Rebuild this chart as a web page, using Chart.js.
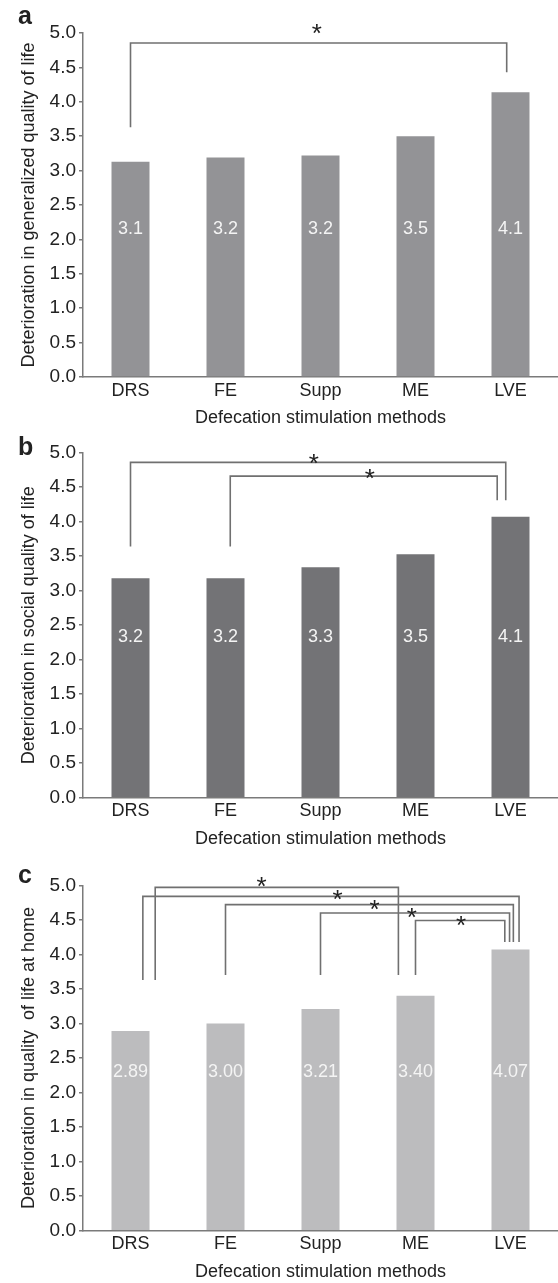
<!DOCTYPE html>
<html>
<head>
<meta charset="utf-8">
<title>Defecation stimulation methods</title>
<script src="https://cdn.jsdelivr.net/npm/chart.js@4.4.1/dist/chart.umd.min.js"></script>
<style>
  body { margin: 0; background: #fff; }
  .panel { position: absolute; left: 0; }
</style>
</head>
<body>
<div class="panel" style="top:0"><canvas id="chartA" width="558" height="430"></canvas></div>
<div class="panel" style="top:430px"><canvas id="chartB" width="558" height="420"></canvas></div>
<div class="panel" style="top:850px"><canvas id="chartC" width="558" height="433"></canvas></div>
<script>
const methods = ['DRS', 'FE', 'Supp', 'ME', 'LVE'];
const generalQol = [3.13, 3.19, 3.22, 3.50, 4.14];
const socialQol = [3.18, 3.18, 3.34, 3.53, 4.07];
const homeQol = [2.89, 3.00, 3.21, 3.40, 4.07];

// significance brackets: [from, to, line level, left leg end, right leg end, star x, star level]
// from / to / star x are category positions (0 = DRS ... 4 = LVE)
const generalSig = [
  [0, 3.96, 4.855, 3.63, 4.43, 1.96, 5.08]
];
const socialSig = [
  [0, 3.95, 4.86, 3.64, 4.31, 1.93, 4.94],
  [1.05, 3.86, 4.66, 3.64, 4.31, 2.52, 4.72]
];
const homeSig = [
  [0.26, 2.82, 4.97, 3.63, 3.70, 1.38, 5.08],
  [0.13, 4.09, 4.84, 3.63, 4.18, 2.18, 4.89],
  [1.0, 4.03, 4.72, 3.70, 4.18, 2.57, 4.75],
  [2.0, 3.99, 4.60, 3.70, 4.18, 2.96, 4.63],
  [3.0, 3.94, 4.49, 3.70, 4.18, 3.48, 4.51]
];

const FONT = "'Liberation Sans', Arial, Helvetica, sans-serif";
const axisColor = '#7a7a7a';
const textColor = '#222';

Chart.defaults.font.family = FONT;
Chart.defaults.color = textColor;

// value labels, brackets and panel letter
const panelDecor = {
  id: 'panelDecor',
  afterDraw(chart, args, opts) {
    const ctx = chart.ctx;
    const x = chart.scales.x;
    const y = chart.scales.y;
    ctx.save();

    ctx.fillStyle = '#f4f4f4';
    ctx.font = '18px ' + FONT;
    ctx.textAlign = 'center';
    ctx.textBaseline = 'middle';
    chart.data.datasets[0].data.forEach((v, i) => {
      ctx.fillText(v.toFixed(opts.decimals), x.getPixelForValue(i), y.getPixelForValue(opts.labelLevel));
    });

    ctx.strokeStyle = '#707070';
    ctx.lineWidth = 1.6;
    ctx.fillStyle = textColor;
    ctx.font = '26px ' + FONT;
    ctx.textBaseline = 'alphabetic';
    opts.sig.forEach(s => {
      const x1 = x.getPixelForValue(s[0]);
      const x2 = x.getPixelForValue(s[1]);
      ctx.beginPath();
      ctx.moveTo(x1, y.getPixelForValue(s[3]));
      ctx.lineTo(x1, y.getPixelForValue(s[2]));
      ctx.lineTo(x2, y.getPixelForValue(s[2]));
      ctx.lineTo(x2, y.getPixelForValue(s[4]));
      ctx.stroke();
      ctx.fillText('*', x.getPixelForValue(s[5]), y.getPixelForValue(s[6]) + 15);
    });

    ctx.font = 'bold 25px ' + FONT;
    ctx.textAlign = 'left';
    ctx.fillText(opts.letter, 18, opts.letterY);
    ctx.restore();
  }
};

function makePanel(id, values, color, yTitle, decor, top) {
  const canvas = document.getElementById(id);
  const bottomPad = canvas.height - decor.areaBottom - 52;
  return new Chart(canvas, {
    type: 'bar',
    data: {
      labels: methods,
      datasets: [{
        data: values,
        backgroundColor: color,
        borderWidth: 0,
        barPercentage: 0.4,
        categoryPercentage: 1
      }]
    },
    options: {
      responsive: false,
      animation: false,
      // the original figure is cut at its right edge, so the plot runs a little past the canvas
      layout: { padding: { left: 10, right: -2, top: top, bottom: bottomPad } },
      plugins: {
        legend: { display: false },
        tooltip: { enabled: false },
        panelDecor: decor
      },
      scales: {
        x: {
          grid: { display: false, drawTicks: false },
          border: { display: true, color: axisColor, width: 1.5 },
          ticks: { padding: 3, color: textColor, font: { size: 18 } },
          title: {
            display: true,
            text: 'Defecation stimulation methods',
            color: textColor,
            font: { size: 18 },
            padding: { top: 0, bottom: 0 }
          },
          afterFit: s => { s.height = 52; }
        },
        y: {
          min: 0,
          max: 5,
          grid: { drawOnChartArea: false, drawTicks: true, tickLength: 4, color: axisColor, lineWidth: 1.5 },
          border: { display: true, color: axisColor, width: 1.5 },
          ticks: {
            stepSize: 0.5,
            padding: 3,
            color: textColor,
            font: { size: 19 },
            callback: v => v.toFixed(1)
          },
          title: {
            display: true,
            text: yTitle,
            color: textColor,
            font: { size: 18 },
            padding: { top: 8, bottom: 0 }
          },
          afterFit: s => { s.width = 73; }
        }
      }
    },
    plugins: [panelDecor]
  });
}

makePanel('chartA', generalQol, '#939396', 'Deterioration in generalized quality of life',
  { letter: 'a', letterY: 24, labelLevel: 2.15, decimals: 1, sig: generalSig, areaBottom: 377 }, 33);
makePanel('chartB', socialQol, '#737376', 'Deterioration in social quality of life',
  { letter: 'b', letterY: 25, labelLevel: 2.33, decimals: 1, sig: socialSig, areaBottom: 367.7 }, 22.7);
makePanel('chartC', homeQol, '#bcbcbe', 'Deterioration in quality  of life at home',
  { letter: 'c', letterY: 33, labelLevel: 2.30, decimals: 2, sig: homeSig, areaBottom: 380.7 }, 35.3);
</script>
</body>
</html>
